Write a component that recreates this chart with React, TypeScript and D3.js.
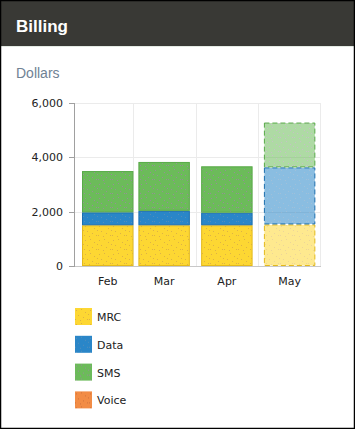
import React from "react";
import * as d3 from "d3";

const categories = ["Feb", "Mar", "Apr", "May"];
const seriesNames = ["MRC", "Data", "SMS", "Voice"];
const mrc = [1500, 1500, 1500, 1530];
const data = [475, 530, 460, 2100];
const sms = [1520, 1800, 1710, 1650];
const voice = [0, 0, 0, 0];
const yTicks = [0, 2000, 4000, 6000];
const projected = [false, false, false, true];

const colors = ["#fdd733", "#2a86c8", "#6cbb5a", "#f28c45"];
const strokes = ["#e3b91c", "#1c6fae", "#58a948", "#e07630"];
const dotColors = ["#d4a94a", "#5b8fb8", "#a083a8", "#c76a3a"];

const W = 355;
const H = 429;

export default function App() {
  const values = [mrc, data, sms, voice];
  const rows = categories.map((c, i) => {
    const r: any = { cat: c };
    seriesNames.forEach((s, k) => (r[s] = values[k][i]));
    return r;
  });
  const stacked = d3.stack().keys(seriesNames)(rows);

  const axisX = 75;
  const y = d3.scaleLinear().domain([0, 6000]).range([266, 103]);
  const x = d3
    .scaleBand()
    .domain(categories)
    .range([70, 321])
    .paddingInner(0.18)
    .paddingOuter(0.09);
  const bw = x.bandwidth();
  const gap = x.step() * 0.18;
  const barX = (c: string) => Math.max(x(c)!, axisX + 7);

  const dots = [
    [1, 2], [6, 1], [10, 4], [3, 7], [8, 9], [12, 11], [5, 12], [13, 6], [0, 11],
  ];

  return (
    <svg
      width={W}
      height={H}
      style={{ position: "absolute", left: 0, top: 0, display: "block" }}
      fontFamily="'DejaVu Sans', Verdana, sans-serif"
    >
      <defs>
        {seriesNames.map((s, k) => (
          <pattern
            key={s}
            id={`pat${k}`}
            width={14}
            height={14}
            patternUnits="userSpaceOnUse"
          >
            <rect width={14} height={14} fill={colors[k]} />
            {dots.map((d, j) => (
              <rect
                key={j}
                x={d[0]}
                y={d[1]}
                width={1}
                height={1}
                fill={dotColors[k]}
                opacity={0.8}
              />
            ))}
          </pattern>
        ))}
      </defs>
      <rect x={0} y={0} width={W} height={H} fill="#fff" />
      <rect x={0} y={0} width={W} height={46} fill="#393935" />
      <line x1={0} x2={W} y1={46.5} y2={46.5} stroke="#e4ebe4" />
      <text
        x={16}
        y={32}
        fill="#fff"
        fontFamily="'Liberation Sans', Arial, sans-serif"
        fontWeight="bold"
        fontSize={17}
      >
        Billing
      </text>
      <text
        x={16}
        y={78}
        fill="#6f8294"
        fontFamily="'Liberation Sans', Arial, sans-serif"
        fontSize={14}
      >
        Dollars
      </text>

      {/* grid */}
      {yTicks.slice(1).map((t) => (
        <line
          key={t}
          x1={axisX}
          x2={321}
          y1={Math.round(y(t)) + 0.5}
          y2={Math.round(y(t)) + 0.5}
          stroke="#ebebeb"
        />
      ))}
      {categories.slice(1).map((c) => (
        <line
          key={c}
          x1={Math.round(x(c)! - gap / 2) + 0.5}
          x2={Math.round(x(c)! - gap / 2) + 0.5}
          y1={103}
          y2={266}
          stroke="#ebebeb"
        />
      ))}
      <line x1={320.5} x2={320.5} y1={103} y2={266} stroke="#ebebeb" />

      {/* bars */}
      {stacked.map((layer, k) =>
        layer.map((d, i) => {
          const h = y(d[0]) - y(d[1]);
          const c = categories[i];
          const proj = projected[i];
          return (
            <rect
              key={`${k}-${i}`}
              x={barX(c) + 0.5}
              y={y(d[1]) + 0.5}
              width={bw - 1}
              height={Math.max(h - 1, 0)}
              fill={`url(#pat${k})`}
              fillOpacity={proj ? 0.55 : 1}
              stroke={strokes[k]}
              strokeWidth={1}
              strokeDasharray={proj ? "5,3" : undefined}
              style={{ display: h <= 0 && !proj ? "none" : undefined }}
            />
          );
        })
      )}

      {/* axes */}
      <line x1={axisX - 0.5} x2={axisX - 0.5} y1={103} y2={266} stroke="#a0a0a0" />
      <line x1={70} x2={321} y1={266.5} y2={266.5} stroke="#c8c8c8" />
      {yTicks.map((t) => (
        <g key={t}>
          <line
            x1={69}
            x2={75}
            y1={Math.round(y(t)) + 0.5}
            y2={Math.round(y(t)) + 0.5}
            stroke="#a0a0a0"
          />
          <text
            x={63}
            y={y(t) + 4}
            textAnchor="end"
            fontSize={11}
            fill="#222"
          >
            {d3.format(",")(t)}
          </text>
        </g>
      ))}
      {categories.map((c) => (
        <text
          key={c}
          x={barX(c) + bw / 2}
          y={285}
          textAnchor="middle"
          fontSize={11}
          fill="#222"
        >
          {c}
        </text>
      ))}

      {/* legend */}
      {seriesNames.map((s, k) => (
        <g key={s} transform={`translate(75, ${308 + k * 27.8})`}>
          <rect width={17} height={17} fill={`url(#pat${k})`} />
          <text x={22} y={13} fontSize={11} fill="#222">
            {s}
          </text>
        </g>
      ))}

      <rect
        x={0.5}
        y={0.5}
        width={W - 1}
        height={H - 1}
        fill="none"
        stroke="#000"
        strokeWidth={1.5}
      />
    </svg>
  );
}
